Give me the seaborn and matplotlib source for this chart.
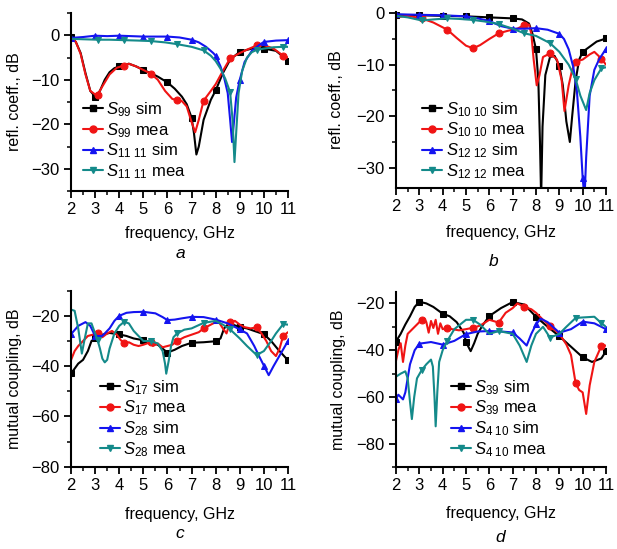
import numpy as np
import matplotlib
matplotlib.use("Agg")
import matplotlib.pyplot as plt
from matplotlib.lines import Line2D
from matplotlib.ticker import MultipleLocator
import seaborn as sns

# ---------------- data ----------------
# panel a
a_s99_sim_f = [2.0,2.2,2.4,2.6,2.8,3.0,3.2,3.4,3.6,3.8,4.0,4.4,4.7,5.0,5.3,5.6,6.0,6.3,6.6,6.8,7.0,7.1,7.2,7.3,7.5,7.8,8.0,8.3,8.6,9.0,9.5,10.0,10.5,11.0]
a_s99_sim = [-0.5,-1.5,-4.0,-8.5,-12.5,-13.8,-12.5,-10.0,-8.3,-7.4,-7.0,-6.4,-7.0,-7.8,-8.5,-9.3,-10.6,-12.0,-13.8,-15.5,-18.5,-22.0,-26.8,-25.0,-19.0,-14.5,-12.4,-8.5,-5.5,-3.7,-3.0,-3.0,-3.5,-5.7]
a_s99_mea_f = [2.0,2.2,2.4,2.6,2.8,3.0,3.1,3.3,3.6,3.9,4.2,4.4,4.7,5.0,5.3,5.6,5.9,6.2,6.4,6.6,6.8,7.0,7.15,7.3,7.5,7.8,8.0,8.3,8.6,9.0,9.4,9.7,10.0,10.4,10.8,11.0]
a_s99_mea = [-0.5,-1.5,-4.2,-8.8,-12.5,-13.3,-13.4,-11.5,-8.8,-7.3,-6.8,-6.4,-7.0,-7.8,-8.6,-10.0,-12.5,-14.3,-14.6,-14.8,-16.0,-19.5,-21.8,-19.0,-14.7,-12.5,-11.0,-8.0,-5.2,-4.0,-3.0,-2.3,-2.2,-3.0,-4.6,-5.0]
a_s1111_sim_f = [2.0,2.5,3.0,3.5,4.0,4.5,5.0,5.5,6.0,6.5,7.0,7.3,7.6,7.9,8.0,8.2,8.35,8.5,8.6,8.68,8.75,8.85,9.0,9.2,9.5,9.8,10.0,10.5,11.0]
a_s1111_sim = [-0.6,-0.4,-0.1,-0.2,-0.1,-0.2,-0.3,-0.3,-0.3,-0.5,-1.0,-1.6,-2.6,-4.0,-4.6,-7.0,-9.5,-13.0,-19.0,-24.0,-20.0,-14.0,-10.0,-6.0,-3.5,-2.2,-1.5,-1.2,-1.1]
a_s1111_mea_f = [2.0,2.5,3.1,3.6,4.2,4.8,5.3,5.9,6.4,7.0,7.5,7.8,8.0,8.2,8.4,8.6,8.7,8.78,8.85,8.95,9.1,9.3,9.5,9.7,10.0,10.4,10.8,11.0]
a_s1111_mea = [-0.8,-0.9,-1.0,-1.0,-1.1,-1.2,-1.3,-1.6,-2.0,-2.6,-3.4,-4.6,-5.8,-7.5,-9.8,-12.8,-19.0,-28.5,-22.0,-13.0,-8.0,-5.0,-3.8,-3.3,-3.0,-2.7,-2.6,-2.6]

# panel b
b_s1010_sim_f = [2.0,3.0,4.0,5.0,6.0,7.0,7.4,7.7,7.85,8.0,8.1,8.17,8.22,8.28,8.4,8.6,8.8,9.0,9.15,9.3,9.45,9.55,9.7,9.85,10.0,10.3,10.6,11.0]
b_s1010_sim = [-0.3,-0.4,-0.5,-0.6,-0.8,-1.0,-1.2,-2.0,-4.0,-7.0,-13.0,-25.0,-36.0,-22.0,-12.0,-8.5,-8.3,-10.2,-14.0,-21.0,-25.0,-20.0,-13.0,-9.0,-7.5,-6.5,-5.5,-4.9]
b_s1010_mea_f = [2.0,2.5,3.1,3.6,4.2,4.6,5.0,5.3,5.6,6.0,6.4,6.8,7.2,7.5,7.7,7.8,7.9,8.03,8.15,8.3,8.6,8.9,9.1,9.22,9.4,9.55,9.7,10.0,10.3,10.5,10.8,11.0]
b_s1010_mea = [-0.8,-0.5,-1.0,-1.8,-3.2,-4.8,-6.3,-6.8,-6.2,-5.0,-3.9,-3.4,-3.0,-2.3,-2.2,-4.0,-9.0,-14.0,-12.0,-8.5,-7.8,-9.0,-13.0,-19.0,-14.0,-11.0,-9.4,-9.0,-8.0,-7.5,-8.8,-10.0]
b_s1212_sim_f = [2.0,3.0,4.0,5.0,5.5,6.0,6.5,7.0,7.5,8.0,8.5,9.0,9.2,9.4,9.6,9.75,9.9,10.0,10.08,10.15,10.3,10.5,10.7,11.0]
b_s1212_sim = [-0.2,-0.3,-0.4,-0.6,-1.0,-1.5,-2.5,-3.0,-3.0,-2.9,-3.2,-4.0,-5.0,-7.0,-10.5,-15.0,-24.0,-32.0,-36.0,-28.0,-16.0,-11.0,-9.0,-6.9]
b_s1212_mea_f = [2.0,2.5,3.1,3.6,4.2,4.7,5.3,5.8,6.4,7.0,7.5,8.0,8.6,9.0,9.4,9.7,9.9,10.15,10.3,10.5,10.8,11.0]
b_s1212_mea = [-0.5,-0.8,-1.4,-1.2,-1.0,-1.1,-1.3,-1.6,-2.1,-3.0,-3.9,-4.4,-5.8,-7.5,-10.0,-12.8,-16.0,-18.8,-15.5,-13.0,-10.7,-10.5]

# panel c
c_s17_sim_f = [2.0,2.15,2.3,2.5,2.7,2.85,3.0,3.3,3.6,4.0,4.3,4.6,5.0,5.3,5.6,6.0,6.3,6.6,7.0,7.5,8.0,8.2,8.35,8.5,8.7,9.0,9.3,9.6,10.0,10.3,10.6,11.0]
c_s17_sim = [-42.9,-41.0,-39.0,-37.5,-34.0,-30.0,-29.0,-27.5,-26.8,-27.4,-28.0,-29.0,-29.7,-30.5,-31.5,-34.6,-33.5,-32.0,-30.7,-30.5,-30.1,-29.0,-25.0,-23.5,-23.5,-24.4,-25.0,-26.0,-27.3,-30.0,-33.5,-37.7]
c_s17_mea_f = [2.0,2.15,2.3,2.5,2.7,2.9,3.1,3.3,3.5,3.7,3.9,4.05,4.2,4.4,4.6,4.8,5.0,5.3,5.4,5.6,5.8,6.0,6.2,6.4,6.7,7.0,7.3,7.5,7.9,8.1,8.3,8.45,8.6,8.8,9.0,9.2,9.45,9.7,9.9,10.1,10.3,10.5,10.65,10.8,11.0]
c_s17_mea = [-37.6,-34.0,-32.0,-30.0,-28.0,-27.5,-27.0,-28.5,-27.0,-26.0,-27.5,-29.5,-31.0,-30.5,-31.5,-32.0,-31.5,-30.5,-32.0,-31.0,-32.5,-32.0,-31.5,-30.0,-28.5,-27.5,-26.5,-25.0,-23.0,-22.0,-25.0,-27.0,-22.4,-22.0,-23.5,-24.5,-25.0,-24.6,-27.0,-30.0,-34.0,-36.0,-33.0,-28.0,-26.5]
c_s28_sim_f = [2.0,2.3,2.6,2.8,3.0,3.3,3.6,3.8,4.0,4.3,4.6,5.0,5.5,5.8,6.0,6.3,6.6,7.0,7.5,8.0,8.5,9.0,9.3,9.6,9.8,10.0,10.2,10.4,10.7,11.0]
c_s28_sim = [-27.3,-24.0,-22.5,-24.0,-28.0,-28.0,-25.0,-22.0,-20.0,-18.8,-18.5,-18.4,-19.0,-20.5,-21.7,-21.5,-21.0,-20.4,-20.5,-21.5,-23.0,-25.4,-27.0,-32.0,-36.0,-39.8,-43.6,-40.0,-35.0,-30.0]
c_s28_mea_f = [2.0,2.15,2.3,2.45,2.55,2.7,2.85,3.0,3.1,3.2,3.3,3.4,3.5,3.6,3.8,4.0,4.2,4.4,4.6,5.0,5.3,5.6,5.8,5.9,5.95,6.05,6.15,6.25,6.4,6.7,7.0,7.5,8.0,8.3,8.6,9.0,9.3,9.7,10.0,10.3,10.5,10.8,11.0]
c_s28_mea = [-17.5,-18.0,-25.0,-35.0,-30.0,-23.0,-23.0,-27.0,-29.6,-33.0,-37.0,-38.5,-37.5,-33.0,-27.0,-24.0,-22.4,-23.0,-26.0,-30.0,-30.0,-31.0,-34.0,-39.0,-43.0,-38.0,-32.0,-28.5,-27.0,-25.5,-25.0,-22.8,-22.0,-23.5,-25.4,-29.0,-32.0,-35.6,-34.0,-30.0,-27.0,-23.3,-23.5]

# panel d
d_s39_sim_f = [2.0,2.2,2.4,2.6,2.8,3.0,3.3,3.6,4.0,4.3,4.6,4.9,5.0,5.1,5.2,5.35,5.5,5.7,6.0,6.5,7.0,7.5,8.0,8.5,9.0,9.5,10.0,10.4,10.8,11.0]
d_s39_sim = [-36.3,-33.0,-29.0,-25.5,-21.5,-19.3,-20.0,-21.5,-24.4,-25.5,-28.0,-32.5,-36.3,-38.5,-40.4,-37.0,-33.0,-29.5,-25.4,-22.0,-19.4,-20.5,-25.7,-30.0,-34.0,-38.5,-43.0,-45.0,-43.5,-40.4]
d_s39_mea_f = [2.0,2.1,2.2,2.3,2.4,2.5,2.7,2.9,3.1,3.2,3.3,3.4,3.5,3.6,3.7,3.8,3.9,4.0,4.2,4.4,4.7,5.0,5.3,5.6,6.0,6.4,6.7,7.0,7.2,7.5,7.8,8.0,8.3,8.6,9.0,9.3,9.5,9.7,9.85,10.0,10.15,10.3,10.5,10.8,11.0]
d_s39_mea = [-44.5,-40.0,-37.0,-45.0,-38.0,-33.0,-31.0,-29.0,-27.0,-26.5,-28.0,-32.5,-27.5,-30.5,-27.0,-33.0,-28.5,-31.0,-30.4,-31.0,-31.5,-31.0,-30.4,-29.5,-27.0,-28.2,-24.0,-22.0,-20.0,-21.5,-22.5,-24.0,-27.0,-29.6,-33.0,-37.5,-42.0,-54.2,-57.0,-58.0,-67.2,-55.0,-45.0,-38.2,-38.0]
d_s410_sim_f = [2.0,2.1,2.2,2.3,2.4,2.6,2.8,3.0,3.5,4.0,4.5,5.0,5.5,6.0,6.5,7.0,7.3,7.6,7.8,8.0,8.2,8.5,9.0,9.5,10.0,10.5,11.0]
d_s410_sim = [-60.8,-59.0,-60.0,-61.0,-58.0,-46.0,-40.0,-37.2,-36.5,-37.6,-36.0,-33.1,-32.0,-31.8,-32.0,-32.4,-35.0,-38.0,-33.0,-29.0,-26.5,-28.0,-32.5,-31.0,-27.8,-28.5,-31.0]
d_s410_mea_f = [2.0,2.2,2.4,2.5,2.6,2.68,2.78,2.9,3.1,3.3,3.5,3.58,3.65,3.7,3.77,3.85,4.0,4.2,4.5,5.0,5.3,5.6,6.0,6.4,7.0,7.3,7.6,7.8,8.0,8.3,8.6,9.0,9.3,9.7,10.0,10.5,10.8,11.0]
d_s410_mea = [-51.3,-50.0,-49.0,-52.0,-62.0,-69.4,-60.0,-52.0,-48.5,-46.0,-44.0,-47.0,-60.0,-72.5,-58.0,-45.0,-40.0,-36.0,-31.0,-27.0,-27.0,-29.0,-33.0,-31.8,-33.0,-38.0,-45.0,-38.0,-33.0,-30.0,-34.6,-33.0,-30.0,-26.2,-26.0,-25.7,-28.4,-30.0]

# marker frequencies
sim_marks = [2, 3, 4, 5, 6, 7, 8, 9, 10, 11]
mea_marks = [3.1, 4.2, 5.3, 6.4, 7.5, 8.6, 9.7, 10.8]

# ---------------- style ----------------
sns.set_style("ticks")
plt.rcParams["font.family"] = ["Liberation Sans", "DejaVu Sans"]
plt.rcParams["mathtext.fontset"] = "custom"
plt.rcParams["mathtext.rm"] = "Liberation Sans"
plt.rcParams["mathtext.it"] = "Liberation Sans:italic"
plt.rcParams["axes.linewidth"] = 1.5
for key in ["text.color", "axes.labelcolor", "xtick.color", "ytick.color", "axes.edgecolor"]:
    plt.rcParams[key] = "black"

BLACK, RED, BLUE, TEAL = "#000000", "#f01414", "#1414f0", "#148a8a"
styles = [(BLACK, "s", sim_marks), (RED, "o", mea_marks), (BLUE, "^", sim_marks), (TEAL, "v", mea_marks)]

fig = plt.figure(figsize=(6.17, 5.49), dpi=100)
W, H = 617, 549


def axes_px(x0, x1, ytop, ybot):
    return fig.add_axes([x0 / W, 1 - ybot / H, (x1 - x0) / W, (ybot - ytop) / H])


def draw(ax, series, labels, ylim, ymaj, ymin, ylabel, leg_anchor, ylab_x, xlab_y, letter, letter_xy):
    handles = []
    for (f, v), lab, (col, mk, marks) in zip(series, labels, styles):
        f = np.asarray(f, float)
        idx = [int(np.argmin(np.abs(f - m))) for m in marks if np.min(np.abs(f - m)) < 1e-6]
        sns.lineplot(x=f, y=v, ax=ax, color=col, marker=mk, markevery=idx, lw=1.5,
                     markersize=5, markeredgecolor=col, estimator=None, sort=False)
        handles.append(Line2D([], [], color=col, marker=mk, lw=1.5, markersize=5,
                              markeredgecolor=col, label=lab))
    ax.set_xlim(2, 11)
    ax.set_ylim(*ylim)
    ax.xaxis.set_major_locator(MultipleLocator(1))
    ax.xaxis.set_minor_locator(MultipleLocator(0.5))
    ax.yaxis.set_major_locator(MultipleLocator(ymaj))
    ax.yaxis.set_minor_locator(MultipleLocator(ymin))
    ax.tick_params(which="major", direction="out", length=5, width=1.3, labelsize=12, pad=3)
    ax.tick_params(which="minor", direction="out", length=3, width=1.1)
    sns.despine(ax=ax)
    ax.set_xlabel("frequency, GHz", fontsize=11.5)
    ax.set_ylabel(ylabel, fontsize=11.5)
    ax.xaxis.set_label_coords(0.5, xlab_y)
    ax.yaxis.set_label_coords(ylab_x, 0.5)
    ax.legend(handles=handles, loc="upper left", bbox_to_anchor=leg_anchor, frameon=False,
              fontsize=12, handlelength=1.2, handletextpad=0.2, labelspacing=0.12,
              borderaxespad=0, borderpad=0)
    fig.text(letter_xy[0] / W, 1 - letter_xy[1] / H, letter, fontsize=12.5, style="italic",
             ha="center", va="center")


ax_a = axes_px(71, 288, 13, 191)
draw(ax_a,
     [(a_s99_sim_f, a_s99_sim), (a_s99_mea_f, a_s99_mea), (a_s1111_sim_f, a_s1111_sim), (a_s1111_mea_f, a_s1111_mea)],
     [r"$S_{99}$ sim", r"$S_{99}$ mea", r"$S_{11\ 11}$ sim", r"$S_{11\ 11}$ mea"],
     (-35, 5), 10, 5, "refl. coeff., dB", (0.055, 0.51), -0.226, -0.195, "a", (180, 253))

ax_b = axes_px(396, 606, 11.7, 188.3)
draw(ax_b,
     [(b_s1010_sim_f, b_s1010_sim), (b_s1010_mea_f, b_s1010_mea), (b_s1212_sim_f, b_s1212_sim), (b_s1212_mea_f, b_s1212_mea)],
     [r"$S_{10\ 10}$ sim", r"$S_{10\ 10}$ mea", r"$S_{12\ 12}$ sim", r"$S_{12\ 12}$ mea"],
     (-34, 0.3), 10, 5, "refl. coeff., dB", (0.125, 0.50), -0.25, -0.21, "b", (494, 262))

ax_c = axes_px(71, 288, 290.7, 466.7)
draw(ax_c,
     [(c_s17_sim_f, c_s17_sim), (c_s17_mea_f, c_s17_mea), (c_s28_sim_f, c_s28_sim), (c_s28_mea_f, c_s28_mea)],
     [r"$S_{17}$ sim", r"$S_{17}$ mea", r"$S_{28}$ sim", r"$S_{28}$ mea"],
     (-80, -10), 20, 10, "mutual coupling, dB", (0.134, 0.504), -0.226, -0.23, "c", (180, 533))

ax_d = axes_px(396, 606, 291.7, 467.3)
draw(ax_d,
     [(d_s39_sim_f, d_s39_sim), (d_s39_mea_f, d_s39_mea), (d_s410_sim_f, d_s410_sim), (d_s410_mea_f, d_s410_mea)],
     [r"$S_{39}$ sim", r"$S_{39}$ mea", r"$S_{4\ 10}$ sim", r"$S_{4\ 10}$ mea"],
     (-90, -15), 20, 10, "mutual coupling, dB", (0.26, 0.508), -0.24, -0.223, "d", (500, 537))

fig.savefig("out.png", dpi=100)
